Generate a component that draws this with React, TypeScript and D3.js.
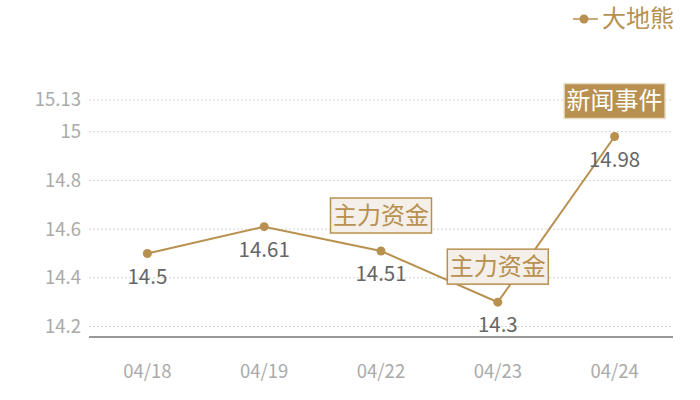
import * as d3 from 'd3'

const dates = ['04/18', '04/19', '04/22', '04/23', '04/24']
const prices = [14.5, 14.61, 14.51, 14.3, 14.98]
const yTicks = [14.2, 14.4, 14.6, 14.8, 15, 15.13]
const seriesName = '大地熊'
// annotation tags: index into dates, label, filled?
const tags = [
  {i: 2, text: '主力资金', solid: false},
  {i: 3, text: '主力资金', solid: false},
  {i: 4, text: '新闻事件', solid: true},
]

const gold = '#b8904f'
const font = '"Noto Sans CJK SC", "Noto Sans", sans-serif'

export default function App() {
  const width = 700
  const height = 400
  const marginLeft = 89
  const marginRight = 27
  const marginTop = 100
  const marginBottom = 63

  const x = d3.scaleBand(dates, [marginLeft, width - marginRight])
  const y = d3.scaleLinear([14.157, 15.13], [height - marginBottom, marginTop])
  const cx = (d: string) => (x(d) ?? 0) + x.bandwidth() / 2

  const line = d3.line<number>()
    .x((_, i) => cx(dates[i]))
    .y(v => y(v))

  return (
    <svg width={width} height={height} style={{position: 'absolute', left: 0, top: 0, fontFamily: font}}>
      {/* legend */}
      <g transform="translate(573,19)">
        <line x1={0} x2={25} y1={0} y2={0} stroke={gold} strokeWidth={1.5}/>
        <circle cx={11} cy={0} r={4.5} fill={gold}/>
        <text x={29} y={0} dy="0.35em" fontSize={24} fill={gold}>{seriesName}</text>
      </g>

      {/* grid + y ticks */}
      {yTicks.map(t => (
        <g key={t}>
          <line x1={marginLeft} x2={width - marginRight} y1={y(t)} y2={y(t)}
                stroke="#d4d4d4" strokeDasharray="2,2" strokeWidth={1}/>
          <text x={81} y={y(t)} dy="0.35em" textAnchor="end" fontSize={18.5} fill="#aaa">{t}</text>
        </g>
      ))}

      {/* x axis */}
      <line x1={marginLeft} x2={width - marginRight} y1={height - marginBottom} y2={height - marginBottom}
            stroke="#333" strokeWidth={1}/>
      {dates.map(d => (
        <text key={d} x={cx(d)} y={372} dy="0.35em" textAnchor="middle" fontSize={18.5} fill="#aaa">{d}</text>
      ))}

      {/* series */}
      <path d={line(prices) ?? ''} fill="none" stroke={gold} strokeWidth={2}/>
      {prices.map((v, i) => (
        <g key={i}>
          <circle cx={cx(dates[i])} cy={y(v)} r={4.5} fill={gold}/>
          <text x={cx(dates[i])} y={y(v) + 23} dy="0.35em" textAnchor="middle" fontSize={20.5} fill="#666">{v}</text>
        </g>
      ))}

      {/* tags */}
      {tags.map((t, k) => {
        const px = cx(dates[t.i])
        const py = y(prices[t.i])
        const w = 101
        const h = 35
        return (
          <g key={k} transform={`translate(${px - w / 2},${py - 18 - h})`}>
            <rect width={w} height={h} fill={t.solid ? gold : '#f4efe8'}
                  stroke={t.solid ? '#e8dcc8' : gold} strokeWidth={1.5}/>
            <text x={w / 2} y={h / 2} dy="0.35em" textAnchor="middle" fontSize={24}
                  fill={t.solid ? '#fff' : gold}>{t.text}</text>
          </g>
        )
      })}
    </svg>
  )
}
